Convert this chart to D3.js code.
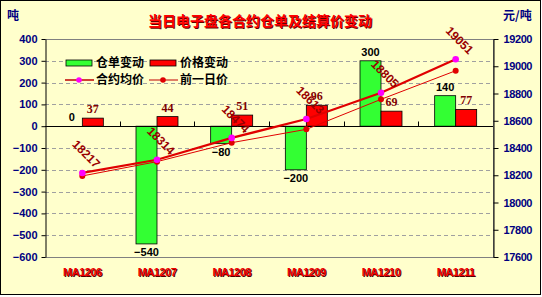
<!DOCTYPE html>
<html>
<head>
<meta charset="utf-8">
<script src="https://cdn.jsdelivr.net/npm/d3@7"></script>
<style>
  body { margin: 0; background: #fff; }
  svg { display: block; }
</style>
</head>
<body>
<svg id="chart" width="542" height="297"></svg>
<script>
// data
const contracts = ['MA1206', 'MA1207', 'MA1208', 'MA1209', 'MA1210', 'MA1211'];
const receiptChange = [0, -540, -80, -200, 300, 140];      // 仓单变动 (吨)
const priceChange = [37, 44, 51, 96, 69, 77];               // 价格变动
const avgPrice = [18217, 18314, 18474, 18613, 18805, 19051]; // 合约均价
const prevPrice = [18195, 18300, 18439, 18537, 18757, 18967]; // 前一日价
const leftTicks = [400, 300, 200, 100, 0, -100, -200, -300, -400, -500, -600];
const rightTicks = [19200, 19000, 18800, 18600, 18400, 18200, 18000, 17800, 17600];

const svg = d3.select('#chart');
const W = 542, H = 297;
const plot = {left: 45, right: 493, top: 39, bottom: 257};
const numFont = '"Liberation Sans", Arial, sans-serif';
const cjkFont = '"Noto Sans CJK SC", sans-serif';

// background + frame
svg.append('rect').attr('x', 0.5).attr('y', 0.5).attr('width', W - 2).attr('height', H - 3)
    .attr('fill', '#ffffcc').attr('stroke', '#000');

// scales
const x = d3.scaleBand().domain(contracts).range([plot.left, plot.right]);
const sub = d3.scaleBand().domain(['receipt', 'price']).range([0, x.bandwidth()])
    .paddingOuter((x.bandwidth() - 42) / 42);
const yL = d3.scaleLinear().domain([-600, 400]).range([plot.bottom, plot.top]);
const yR = d3.scaleLinear().domain([17600, 19200]).range([plot.bottom, plot.top]);
const cx = d => x(d) + x.bandwidth() / 2;

// gridlines
svg.append('g').selectAll('line')
    .data(leftTicks.filter(t => t !== 0 && t !== 400 && t !== -600))
    .enter().append('line')
    .attr('x1', plot.left).attr('x2', plot.right)
    .attr('y1', d => Math.round(yL(d)) + 0.5).attr('y2', d => Math.round(yL(d)) + 0.5)
    .attr('stroke', '#a0a0a0').attr('stroke-dasharray', '4,3');

// plot border (top, right, bottom)
svg.append('path')
    .attr('d', `M${plot.left},${plot.top + 0.5}H${plot.right + 0.5}V${plot.bottom + 0.5}H${plot.left}`)
    .attr('fill', 'none').attr('stroke', '#808080');

// left axis
const leftAxis = svg.append('g').attr('transform', `translate(${plot.left + 0.5},0)`)
    .call(d3.axisLeft(yL).tickValues(leftTicks).tickSize(4).tickSizeOuter(0).tickFormat(d3.format('d')));
leftAxis.select('.domain').attr('stroke', '#000');
leftAxis.selectAll('.tick line').attr('stroke', '#000');
leftAxis.selectAll('.tick text').attr('x', -8)
    .style('font', `bold 11px ${numFont}`).attr('fill', '#000080')
    .text(d => d < 0 ? '\u2212' + Math.abs(d) : d);

// right axis
const rightAxis = svg.append('g').attr('transform', `translate(${plot.right + 0.5},0)`)
    .call(d3.axisRight(yR).tickValues(rightTicks).tickSize(5).tickSizeOuter(0).tickFormat(d3.format('d')));
rightAxis.select('.domain').attr('stroke', '#000');
rightAxis.selectAll('.tick line').attr('stroke', '#000');
rightAxis.selectAll('.tick text').attr('x', 10)
    .style('font', `bold 11px ${numFont}`).style('letter-spacing', '-0.4px').attr('fill', '#000080');

// bars
const bars = svg.append('g');
contracts.forEach((c, i) => {
  const g0 = yL(0);
  const gv = yL(receiptChange[i]);
  bars.append('rect')
      .attr('x', x(c) + sub('receipt')).attr('width', sub.bandwidth())
      .attr('y', Math.min(g0, gv)).attr('height', Math.abs(g0 - gv))
      .attr('fill', '#33ff33').attr('stroke', '#000').attr('stroke-width', 0.8);
  const pv = yL(priceChange[i]);
  bars.append('rect')
      .attr('x', x(c) + sub('price')).attr('width', sub.bandwidth())
      .attr('y', Math.min(g0, pv)).attr('height', Math.abs(g0 - pv))
      .attr('fill', '#ff0000').attr('stroke', '#000').attr('stroke-width', 0.8);
});

// category axis at zero
const zeroY = Math.round(yL(0)) + 0.5;
svg.append('line').attr('x1', plot.left).attr('x2', plot.right)
    .attr('y1', zeroY).attr('y2', zeroY).attr('stroke', '#000');
svg.append('g').selectAll('line')
    .data(contracts.slice(1))
    .enter().append('line')
    .attr('x1', d => Math.round(x(d)) + 0.5).attr('x2', d => Math.round(x(d)) + 0.5)
    .attr('y1', zeroY).attr('y2', zeroY - 5).attr('stroke', '#000');

// category labels (low position) with dark shadow
const catG = svg.append('g');
[['#500000', 1], ['#ee0000', 0]].forEach(([col, off]) => {
  catG.selectAll(null).data(contracts).enter().append('text')
      .attr('x', d => cx(d) + off).attr('y', 276 + off)
      .attr('text-anchor', 'middle').attr('fill', col)
      .style('font', `bold 11px ${numFont}`).style('letter-spacing', '-0.5px')
      .text(d => d);
});

// bar value labels
const labels = svg.append('g');
contracts.forEach((c, i) => {
  const v = receiptChange[i];
  const bx = x(c) + sub('receipt') + sub.bandwidth() / 2;
  labels.append('text')
      .attr('x', bx).attr('y', v >= 0 ? yL(v) - 5 : yL(v) + 12)
      .attr('text-anchor', 'middle').attr('fill', '#000')
      .style('font', `bold 11px ${numFont}`)
      .text(v < 0 ? '\u2212' + Math.abs(v) : v);
  const p = priceChange[i];
  labels.append('text')
      .attr('x', x(c) + sub('price') + sub.bandwidth() / 2).attr('y', yL(p) - 5)
      .attr('text-anchor', 'middle').attr('fill', '#800000')
      .style('font', `bold 12px "Liberation Serif", serif`)
      .text(p);
});

// price lines
const lineR = d3.line().x((d, i) => cx(contracts[i])).y(d => yR(d));
svg.append('path').datum(prevPrice).attr('d', lineR)
    .attr('fill', 'none').attr('stroke', '#e00000').attr('stroke-width', 1);
svg.append('path').datum(avgPrice).attr('d', lineR)
    .attr('fill', 'none').attr('stroke', '#e00000').attr('stroke-width', 2.2);
svg.append('g').selectAll('circle').data(prevPrice).enter().append('circle')
    .attr('cx', (d, i) => cx(contracts[i])).attr('cy', d => yR(d)).attr('r', 3)
    .attr('fill', '#e00000');
svg.append('g').selectAll('circle').data(avgPrice).enter().append('circle')
    .attr('cx', (d, i) => cx(contracts[i])).attr('cy', d => yR(d)).attr('r', 3.3)
    .attr('fill', '#ff00ff');

// rotated price labels
svg.append('g').selectAll('text').data(avgPrice).enter().append('text')
    .attr('transform', (d, i) => `translate(${cx(contracts[i]) + 4},${yR(d) - 19}) rotate(45)`)
    .attr('text-anchor', 'middle').attr('dy', '0.35em').attr('fill', '#990000')
    .style('font', `bold 12px ${numFont}`)
    .text(d => d);

// legend
const leg = svg.append('g');
const legItems = [
  {name: '仓单变动', type: 'bar', color: '#33ff33', x: 66, y: 63},
  {name: '价格变动', type: 'bar', color: '#ff0000', x: 150, y: 63},
  {name: '合约均价', type: 'line', color: '#ff00ff', x: 66, y: 80},
  {name: '前一日价', type: 'line', color: '#e00000', x: 150, y: 80}
];
legItems.forEach(it => {
  if (it.type === 'bar') {
    leg.append('rect').attr('x', it.x).attr('y', it.y - 3).attr('width', 26).attr('height', 6)
        .attr('fill', it.color).attr('stroke', '#000').attr('stroke-width', 0.8);
  } else {
    leg.append('line').attr('x1', it.x - 1).attr('x2', it.x + 28).attr('y1', it.y).attr('y2', it.y)
        .attr('stroke', '#c00000').attr('stroke-width', it.name === '合约均价' ? 1.5 : 1);
    leg.append('circle').attr('cx', it.x + 13).attr('cy', it.y).attr('r', 2.8).attr('fill', it.color);
  }
  leg.append('text').attr('x', it.x + 30).attr('y', it.y).attr('dy', '0.36em')
      .attr('fill', '#000').style('font', `bold 12px ${cjkFont}`).text(it.name);
});

// title with shadow
const title = '当日电子盘各合约仓单及结算价变动';
svg.append('text').attr('x', 261).attr('y', 27).attr('text-anchor', 'middle')
    .attr('fill', '#600000').style('font', `bold 14px ${cjkFont}`).text(title);
svg.append('text').attr('x', 260).attr('y', 26).attr('text-anchor', 'middle')
    .attr('fill', '#ff0000').style('font', `bold 14px ${cjkFont}`).text(title);

// unit labels
svg.append('text').attr('x', 7).attr('y', 20).attr('fill', '#000080')
    .style('font', `bold 12px ${cjkFont}`).text('吨');
svg.append('text').attr('x', 503).attr('y', 20).attr('fill', '#000080')
    .style('font', `bold 12px ${cjkFont}`).text('元/吨');
</script>
</body>
</html>
